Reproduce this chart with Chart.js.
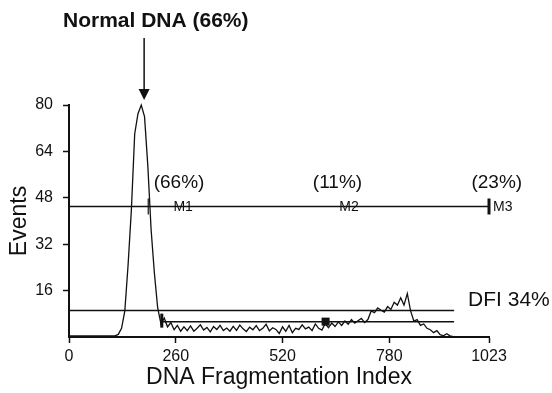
<!DOCTYPE html>
<html>
<head>
<meta charset="utf-8">
<script src="https://cdn.jsdelivr.net/npm/chart.js@4.4.0/dist/chart.umd.min.js"></script>
<style>
  html, body { margin: 0; padding: 0; background: #fff; }
  #wrap { width: 552px; height: 393px; }
</style>
</head>
<body>
<div id="wrap"><canvas id="dfiChart"></canvas></div>
<script>
// =========================
// DATA (DFI histogram, channels 0..1016 step 8)
// =========================

const binWidth = 8;

const events = [
    0.4, 0.4, 0.4, 0.4, 0.4, 0.4, 0.4, 0.4, 0.4, 0.4, 0.4, 0.4, 0.4, 0.4, 0.4, 0.9,
    3, 9, 25, 44, 70, 77, 80, 76, 59, 37, 22, 10, 4.5, 6.5, 3.5, 5,
    2.5, 4, 2, 3.5, 2.2, 3.8, 2, 3, 4.2, 2.4, 3.3, 1.8, 3.6, 2.6, 4, 2.2,
    3.1, 2, 3.7, 2.3, 4.1, 2.8, 1.9, 3.4, 2.5, 3.9, 2.2, 3, 4.4, 2.1, 3.2, 2.6,
    1.2, 3.5, 2, 4, 1.5, 3, 2.6, 4.2, 2.8, 3.4, 2.2, 4.5, 3, 2.4, 4.6, 3.2,
    4.8, 3.6, 5.2, 4, 5.5, 4.4, 6, 4.8, 5.6, 6.4, 5, 6, 9, 8.4, 10, 9.2,
    8.6, 10.5, 9.5, 12, 11, 13.5, 11, 15, 9, 5.5, 6, 4, 4.5, 3, 2.5, 1.5,
    2.2, 0.8, 0.4, 1.1, 0.4, 0.1, 0, 0, 0, 0, 0, 0, 0, 0, 0, 0
];

const xTicks = [0, 260, 520, 780, 1023];
const yTicks = [16, 32, 48, 64, 80];

// marker gates M1..M3
const gateLevel = 45;
const gateNames = ["M1", "M2", "M3"];
const gateNameX = [278, 682, 1033];
const gatePercents = ["(66%)", "(11%)", "(23%)"];
const gatePercentX = [268, 654, 1042];
const gatePercentLevel = 53.2;
const gateEdges = [193, 1023];

// DFI region
const dfiUpper = 9.1;
const dfiLower = 5.3;
const dfiStart = 226;
const dfiEnd = 938;
const dfiMean = 625;
const dfiText = "DFI 34%";
const dfiTextX = 972;
const dfiTextLevel = 10.7;

// normal peak arrow
const peakX = 183;
const titleText = "Normal DNA (66%)";

const points = events.map((v, i) => ({ x: i * binWidth, y: v }));

const ink = "#111";
const family = "'Liberation Sans', Arial, sans-serif";

// =========================
// OVERLAY (gates, labels, arrow)
// =========================

const overlay = {
    id: "overlay",
    afterDatasetsDraw(chart) {
        const { ctx, chartArea } = chart;
        const xs = chart.scales.x;
        const ys = chart.scales.y;
        const px = v => xs.getPixelForValue(v);
        const py = v => ys.getPixelForValue(v);

        ctx.save();
        ctx.strokeStyle = ink;
        ctx.fillStyle = ink;

        // M gate line
        ctx.lineWidth = 1.5;
        ctx.beginPath();
        ctx.moveTo(px(0), py(gateLevel));
        ctx.lineTo(px(1023), py(gateLevel));
        ctx.stroke();

        ctx.lineWidth = 1.2;
        ctx.beginPath();
        ctx.moveTo(px(gateEdges[0]), py(gateLevel) - 8);
        ctx.lineTo(px(gateEdges[0]), py(gateLevel) + 8);
        ctx.stroke();

        ctx.lineWidth = 3;
        ctx.beginPath();
        ctx.moveTo(px(gateEdges[1]), py(gateLevel) - 8);
        ctx.lineTo(px(gateEdges[1]), py(gateLevel) + 8);
        ctx.stroke();

        ctx.font = "14px " + family;
        ctx.textBaseline = "middle";
        gateNames.forEach((name, i) => {
            ctx.textAlign = i === 2 ? "left" : "center";
            ctx.fillText(name, px(gateNameX[i]), py(gateLevel) + 1);
        });

        ctx.font = "19px " + family;
        ctx.textAlign = "center";
        gatePercents.forEach((t, i) => {
            ctx.fillText(t, px(gatePercentX[i]), py(gatePercentLevel));
        });

        // DFI lines
        ctx.lineWidth = 1.5;
        ctx.beginPath();
        ctx.moveTo(px(0), py(dfiUpper));
        ctx.lineTo(px(dfiEnd), py(dfiUpper));
        ctx.moveTo(px(dfiStart), py(dfiLower));
        ctx.lineTo(px(dfiEnd), py(dfiLower));
        ctx.stroke();

        ctx.lineWidth = 3;
        ctx.beginPath();
        ctx.moveTo(px(dfiStart), py(dfiLower) - 8);
        ctx.lineTo(px(dfiStart), py(dfiLower) + 6);
        ctx.stroke();

        ctx.fillRect(px(dfiMean) - 4, py(dfiLower) - 4, 8, 8);

        ctx.font = "21px " + family;
        ctx.textAlign = "left";
        ctx.textBaseline = "alphabetic";
        ctx.fillText(dfiText, px(dfiTextX), py(dfiTextLevel));

        // title + arrow
        ctx.font = "bold 21px " + family;
        ctx.fillText(titleText, chartArea.left - 6, 27);

        const ax = px(peakX);
        const tip = chartArea.top - 5;
        ctx.lineWidth = 1.5;
        ctx.beginPath();
        ctx.moveTo(ax, 38);
        ctx.lineTo(ax, tip - 8);
        ctx.stroke();
        ctx.beginPath();
        ctx.moveTo(ax - 5.5, tip - 11);
        ctx.lineTo(ax + 5.5, tip - 11);
        ctx.lineTo(ax, tip);
        ctx.closePath();
        ctx.fill();

        ctx.restore();
    }
};

// =========================
// CHART
// =========================

const canvas = document.getElementById("dfiChart");

new Chart(canvas, {
    type: "line",
    data: {
        datasets: [{
            data: points,
            borderColor: ink,
            borderWidth: 1.3,
            pointRadius: 0,
            tension: 0,
            fill: false,
            clip: false
        }]
    },
    options: {
        responsive: true,
        maintainAspectRatio: false,
        animation: false,
        layout: {
            padding: { top: 105, right: 63, left: 0, bottom: 0 }
        },
        plugins: {
            legend: { display: false },
            tooltip: { enabled: false }
        },
        scales: {
            x: {
                type: "linear",
                min: 0,
                max: 1023,
                afterBuildTicks: s => { s.ticks = xTicks.map(v => ({ value: v })); },
                afterFit: s => { s.height = 56; },
                grid: {
                    drawOnChartArea: false,
                    color: ink,
                    tickLength: 6,
                    tickWidth: 1.5
                },
                border: { color: ink, width: 2 },
                ticks: {
                    color: ink,
                    font: { family: family, size: 16 },
                    padding: 4,
                    maxRotation: 0,
                    autoSkip: false,
                    callback: v => String(v)
                },
                title: {
                    display: true,
                    text: "DNA Fragmentation Index",
                    color: ink,
                    font: { family: family, size: 23 },
                    padding: { top: 0, bottom: 2 }
                }
            },
            y: {
                min: 0,
                max: 80,
                afterBuildTicks: s => { s.ticks = yTicks.map(v => ({ value: v })); },
                afterFit: s => { s.width = 69; },
                grid: {
                    drawOnChartArea: false,
                    color: ink,
                    tickLength: 6,
                    tickWidth: 1.5
                },
                border: { color: ink, width: 2 },
                ticks: {
                    color: ink,
                    font: { family: family, size: 16 },
                    padding: 10,
                    callback: v => String(v)
                },
                title: {
                    display: true,
                    text: "Events",
                    color: ink,
                    font: { family: family, size: 23 },
                    padding: { top: 6, bottom: 0 }
                }
            }
        }
    },
    plugins: [overlay]
});
</script>
</body>
</html>
